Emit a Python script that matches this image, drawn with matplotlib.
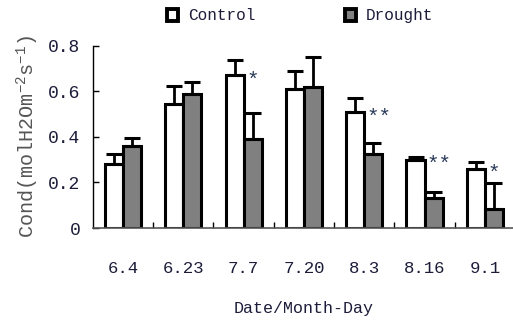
import numpy as np
import matplotlib
matplotlib.use("Agg")
import matplotlib.pyplot as plt
from matplotlib.patches import Patch

plt.rcParams['font.family'] = ['Liberation Mono', 'DejaVu Sans Mono']
plt.rcParams['mathtext.fontset'] = 'custom'
plt.rcParams['mathtext.rm'] = 'Liberation Mono'
plt.rcParams['mathtext.it'] = 'Liberation Mono'

dates = ['6.4', '6.23', '7.7', '7.20', '8.3', '8.16', '9.1']
control = [0.28, 0.545, 0.67, 0.61, 0.507, 0.30, 0.258]
control_err = [0.045, 0.08, 0.067, 0.08, 0.063, 0.01, 0.03]
drought = [0.36, 0.59, 0.39, 0.62, 0.325, 0.13, 0.082]
drought_err = [0.035, 0.05, 0.114, 0.13, 0.05, 0.03, 0.114]
signif = ['', '', '*', '', '**', '**', '*']
yticks = [0, 0.2, 0.4, 0.6, 0.8]
ytick_labels = ['0', '0.2', '0.4', '0.6', '0.8']

txt = '#1c1c3a'

fig = plt.figure(figsize=(5.13, 3.31), dpi=100)
ax = fig.add_axes([0.181, 0.311, 0.823, 0.551])

x = np.arange(len(dates))
w = 0.3
ax.bar(x - w / 2, control, w, color='white', edgecolor='black', linewidth=2.2, zorder=2)
ax.bar(x + w / 2, drought, w, color='#808080', edgecolor='black', linewidth=2.2, zorder=2)
ax.errorbar(x - w / 2, control, yerr=[np.zeros(len(x)), control_err], fmt='none',
            ecolor='black', elinewidth=2.0, capsize=6, capthick=2.2, zorder=3)
ax.errorbar(x + w / 2, drought, yerr=[np.zeros(len(x)), drought_err], fmt='none',
            ecolor='black', elinewidth=2.0, capsize=6, capthick=2.2, zorder=3)

for i, s in enumerate(signif):
    if s:
        ax.text(i + 0.04, control[i] - 0.02, s, ha='left', va='center',
                fontsize=15, color='#2a3a5a')

ax.set_xlim(-0.5, len(dates) - 0.5)
ax.set_ylim(0, 0.8)
ax.set_yticks(yticks)
ax.set_yticklabels(ytick_labels, fontsize=13, color=txt)
ax.set_xticks(x)
ax.set_xticklabels(dates, fontsize=12.5, color=txt)
ax.set_xticks(np.arange(0.5, len(dates) - 0.5), minor=True)
ax.tick_params(axis='x', which='major', length=0, pad=24)
ax.tick_params(axis='x', which='minor', direction='in', length=4, width=1)
ax.tick_params(axis='y', direction='in', length=4, width=1, pad=9)

for side in ['top', 'right']:
    ax.spines[side].set_visible(False)
ax.spines['bottom'].set_color('#555555')
ax.spines['bottom'].set_linewidth(1.2)
ax.spines['left'].set_linewidth(1.0)

ax.set_xlabel('Date/Month-Day', fontsize=12, color=txt, labelpad=18)
ax.set_ylabel(r'Cond(molH2Om$^{-2}$s$^{-1}$)', fontsize=14.5, color='#555555', labelpad=5)

handles = [Patch(facecolor='white', edgecolor='black', linewidth=2.8, label='Control'),
           Patch(facecolor='#808080', edgecolor='black', linewidth=2.8, label='Drought')]
leg = fig.legend(handles=handles, loc='center left', bbox_to_anchor=(0.326, 0.952),
                 ncol=2, frameon=False, fontsize=11.5, handlelength=0.7, handleheight=0.8,
                 handletextpad=0.6, columnspacing=5.6, borderpad=0, borderaxespad=0)
for t in leg.get_texts():
    t.set_color(txt)

fig.savefig('out.png', dpi=100)
